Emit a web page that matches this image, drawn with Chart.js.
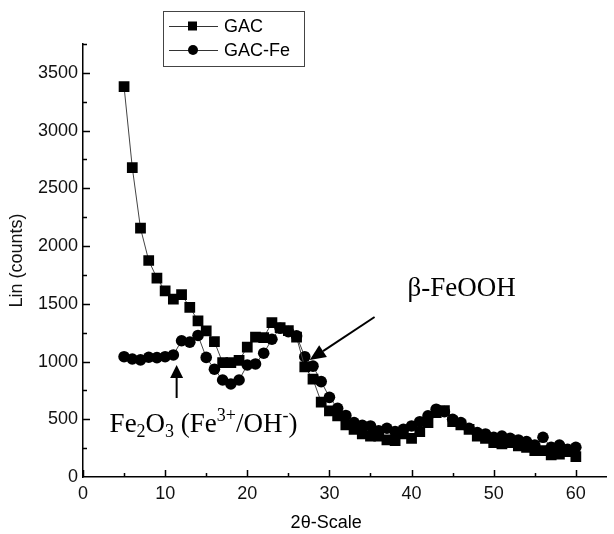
<!DOCTYPE html>
<html>
<head>
<meta charset="utf-8">
<script src="https://cdn.jsdelivr.net/npm/chart.js@4.4.0/dist/chart.umd.min.js"></script>
<style>
  html, body { margin: 0; padding: 0; background: #fff; }
  canvas { display: block; }
</style>
</head>
<body>
<canvas id="xrdChart" width="614" height="534"></canvas>
<script>
// 2-theta positions (degrees) and counts
const twoTheta = [5, 6, 7, 8, 9, 10, 11, 12, 13, 14, 15, 16, 17, 18, 19, 20, 21, 22, 23, 24, 25, 26, 27, 28, 29, 30,
  31, 32, 33, 34, 35, 36, 37, 38, 39, 40, 41, 42, 43, 44, 45, 46, 47, 48, 49, 50, 51, 52, 53, 54, 55, 56, 57, 58, 59, 60];
const gacCounts = [3380, 2680, 2155, 1875, 1722, 1612, 1540, 1580, 1470, 1353, 1266, 1172, 990, 990, 1010, 1124,
  1211, 1208, 1337, 1294, 1268, 1211, 953, 847, 648, 573, 529, 451, 413, 373, 355, 355, 321, 315, 373, 335,
  393, 471, 557, 575, 479, 451, 413, 355, 335, 297, 286, 297, 269, 257, 228, 228, 191, 199, 219, 176];
const gacFeCounts = [1042, 1022, 1014, 1037, 1034, 1042, 1057, 1180, 1168, 1226, 1036, 933, 840, 806, 840, 970,
  979, 1072, 1193, 1288, 1259, 1222, 1042, 960, 826, 690, 595, 533, 471, 447, 442, 401, 422, 393, 413, 442,
  479, 529, 587, 566, 500, 471, 422, 384, 373, 344, 355, 335, 321, 306, 277, 344, 257, 277, 240, 257];

const xTickLabels = [0, 10, 20, 30, 40, 50, 60];
const yTickLabels = [0, 500, 1000, 1500, 2000, 2500, 3000, 3500];
const seriesNames = ['GAC', 'GAC-Fe'];

const sansFont = '"Liberation Sans", Arial, sans-serif';
const serifFont = '"Liberation Serif", "Times New Roman", serif';

function toPoints(values) {
  return twoTheta.map((t, i) => ({ x: t, y: values[i] }));
}

function drawArrow(ctx, x1, y1, x2, y2, headLen, headHalf) {
  const ang = Math.atan2(y2 - y1, x2 - x1);
  const bx = x2 - headLen * Math.cos(ang);
  const by = y2 - headLen * Math.sin(ang);
  ctx.beginPath();
  ctx.moveTo(x1, y1);
  ctx.lineTo(bx, by);
  ctx.stroke();
  ctx.beginPath();
  ctx.moveTo(x2, y2);
  ctx.lineTo(bx + headHalf * Math.sin(ang), by - headHalf * Math.cos(ang));
  ctx.lineTo(bx - headHalf * Math.sin(ang), by + headHalf * Math.cos(ang));
  ctx.closePath();
  ctx.fill();
}

// pieces of the "Fe2O3 (Fe3+/OH-)" label: [text, kind]
const feLabelParts = [['Fe', 'n'], ['2', 'sub'], ['O', 'n'], ['3', 'sub'], [' (Fe', 'n'],
  ['3+', 'sup'], ['/OH', 'n'], ['-', 'sup'], [')', 'n']];

const overlay = {
  id: 'overlay',
  afterDraw(chart) {
    const { ctx, chartArea, scales: { x, y } } = chart;
    ctx.save();
    ctx.strokeStyle = '#000';
    ctx.fillStyle = '#000';
    ctx.lineWidth = 1.5;

    // inward tick marks
    ctx.beginPath();
    for (let v = 0; v <= 60; v += 5) {
      const px = Math.round(x.getPixelForValue(v)) + 0.5;
      ctx.moveTo(px, chartArea.bottom);
      ctx.lineTo(px, chartArea.bottom - (v % 10 === 0 ? 7 : 4));
    }
    for (let v = 250; v <= 3750; v += 250) {
      const py = Math.round(y.getPixelForValue(v)) + 0.5;
      ctx.moveTo(chartArea.left, py);
      ctx.lineTo(chartArea.left + (v % 500 === 0 ? 7 : 4), py);
    }
    ctx.stroke();

    // x axis title
    ctx.font = '18px ' + sansFont;
    ctx.textAlign = 'center';
    ctx.textBaseline = 'middle';
    ctx.fillText('2\u03B8-Scale', x.getPixelForValue(29.6), 523);

    // legend
    ctx.lineWidth = 1;
    ctx.strokeStyle = '#444';
    ctx.strokeRect(163.5, 11.5, 141, 55);
    ctx.textAlign = 'left';
    [26, 50].forEach((ly, i) => {
      ctx.strokeStyle = '#333';
      ctx.beginPath();
      ctx.moveTo(169, ly + 0.5);
      ctx.lineTo(218, ly + 0.5);
      ctx.stroke();
      ctx.beginPath();
      if (i === 0) ctx.rect(188, ly - 4.5, 9, 9);
      else ctx.arc(193, ly, 5, 0, Math.PI * 2);
      ctx.fill();
      ctx.fillText(seriesNames[i], 224, ly + 1);
    });

    // beta-FeOOH annotation
    ctx.strokeStyle = '#000';
    ctx.lineWidth = 2;
    drawArrow(ctx, x.getPixelForValue(35.5), y.getPixelForValue(1386),
      x.getPixelForValue(27.6), y.getPixelForValue(1013), 16, 7);
    ctx.font = '27px ' + serifFont;
    ctx.textBaseline = 'alphabetic';
    ctx.fillText('\u03B2-FeOOH', x.getPixelForValue(39.5), y.getPixelForValue(1568));

    // Fe2O3 annotation
    drawArrow(ctx, x.getPixelForValue(11.4), y.getPixelForValue(684),
      x.getPixelForValue(11.4), y.getPixelForValue(970), 13, 6.5);
    let tx = x.getPixelForValue(3.24);
    const base = y.getPixelForValue(390);
    feLabelParts.forEach(([txt, kind]) => {
      ctx.font = (kind === 'n' ? '27px ' : '18px ') + serifFont;
      const dy = kind === 'sub' ? 5 : kind === 'sup' ? -11 : 0;
      ctx.fillText(txt, tx, base + dy);
      tx += ctx.measureText(txt).width;
    });
    ctx.restore();
  }
};

const ctx = document.getElementById('xrdChart').getContext('2d');
new Chart(ctx, {
  type: 'line',
  data: {
    datasets: [{
      label: seriesNames[0],
      data: toPoints(gacCounts),
      borderColor: '#444',
      borderWidth: 1,
      pointStyle: 'rect',
      pointRadius: 7.6,
      pointBackgroundColor: '#000',
      pointBorderColor: '#000',
      pointBorderWidth: 0
    }, {
      label: seriesNames[1],
      data: toPoints(gacFeCounts),
      borderColor: '#444',
      borderWidth: 1,
      pointStyle: 'circle',
      pointRadius: 5.8,
      pointBackgroundColor: '#000',
      pointBorderColor: '#000',
      pointBorderWidth: 0
    }]
  },
  options: {
    responsive: false,
    animation: false,
    devicePixelRatio: 1,
    layout: { padding: { top: 44, left: 0, right: 0, bottom: 0 } },
    plugins: { legend: { display: false }, tooltip: { enabled: false } },
    scales: {
      x: {
        type: 'linear',
        min: 0,
        max: 63.72,
        afterFit: (s) => { s.height = 57; },
        grid: { drawOnChartArea: false, drawTicks: false },
        border: { color: '#000', width: 1.5 },
        ticks: {
          stepSize: 5,
          includeBounds: false,
          autoSkip: false,
          maxRotation: 0,
          padding: 6,
          color: '#111',
          font: { family: sansFont, size: 18 },
          callback: (v) => xTickLabels.includes(v) ? String(v) : ''
        }
      },
      y: {
        min: 0,
        max: 3750,
        afterFit: (s) => { s.width = 83; },
        grid: { drawOnChartArea: false, drawTicks: false },
        border: { color: '#000', width: 1.5 },
        title: {
          display: true,
          text: 'Lin (counts)',
          color: '#111',
          font: { family: sansFont, size: 18 },
          padding: { top: 6, bottom: 0 }
        },
        ticks: {
          stepSize: 250,
          autoSkip: false,
          padding: 5,
          color: '#111',
          font: { family: sansFont, size: 18 },
          callback: (v) => yTickLabels.includes(v) ? String(v) : ''
        }
      }
    }
  },
  plugins: [overlay]
});
</script>
</body>
</html>
